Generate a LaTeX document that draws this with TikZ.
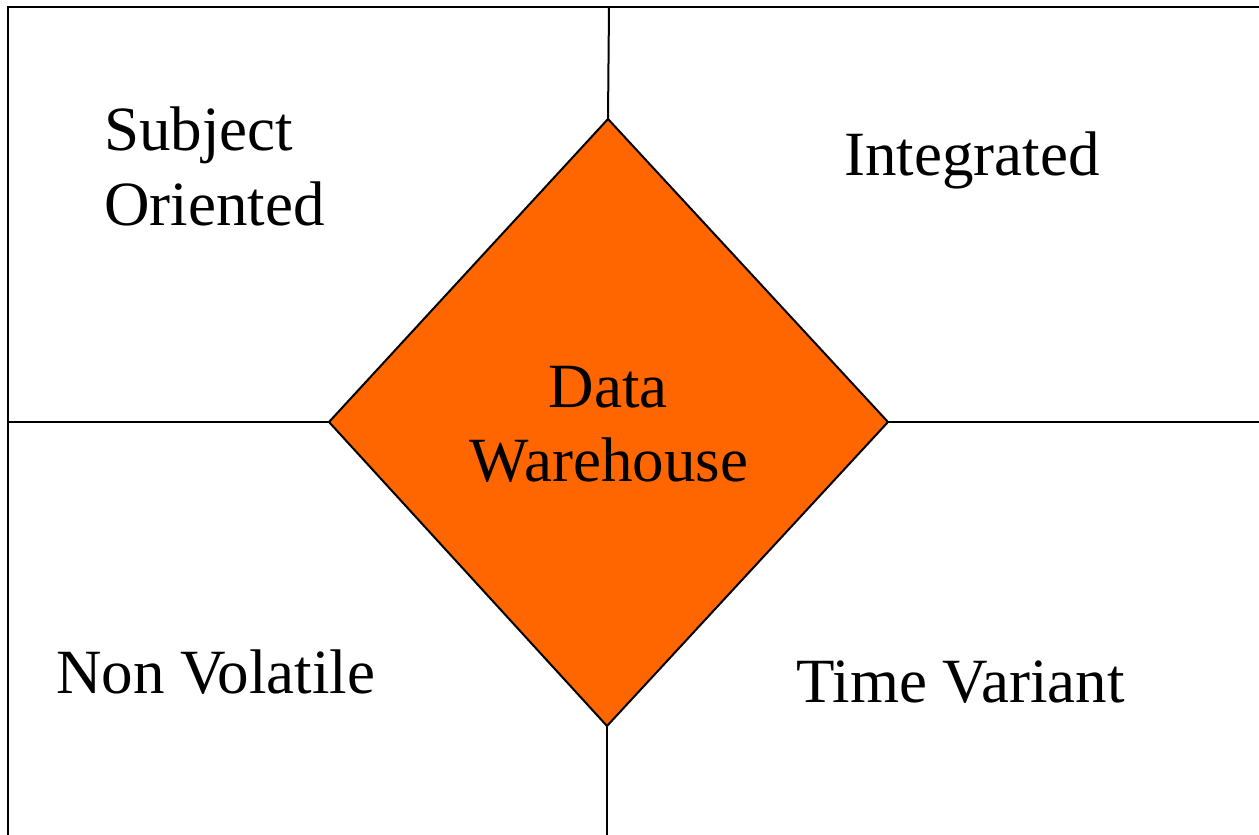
\documentclass[tikz,border=0pt]{standalone}
\usepackage{fontspec}
\setmainfont{Liberation Serif}
\definecolor{dworange}{HTML}{FF6600}
\begin{document}
\begin{tikzpicture}[x=1pt,y=-1pt,
  rule/.style={line width=2pt,black},
  label/.style={inner sep=0pt,font=\fontsize{63}{75}\selectfont},
  lbl/.style={label,anchor=base west},
  clbl/.style={label,anchor=base}]
  \useasboundingbox (0,0) rectangle (1259,835);
  % frame edges
  \coordinate (tl) at (8,7);
  \coordinate (tr) at (1259,7);
  \coordinate (bl) at (8,835);
  \coordinate (tm) at (609,7);
  \coordinate (bm) at (607,835);
  \coordinate (ml) at (8,422);
  \coordinate (mr) at (1259,422);
  % diamond vertices
  \coordinate (dt) at (608,119);
  \coordinate (dr) at (888,422);
  \coordinate (db) at (607,726);
  \coordinate (dl) at (329,422);
  \draw[rule] (tr) -- (tl) -- (bl);
  \draw[rule] (tm) -- (dt);
  \draw[rule] (db) -- (bm);
  \draw[rule] (ml) -- (dl);
  \draw[rule] (dr) -- (mr);
  \filldraw[rule,fill=dworange] (dt) -- (dr) -- (db) -- (dl) -- cycle;
  % labels
  \node[clbl] (data) at (608,407) {Data};
  \node[clbl] (wh) at (609,481) {Warehouse};
  \node[lbl] (subj) at (104,150) {Subject};
  \node[lbl] (orient) at (104,225) {Oriented};
  \node[lbl] (integ) at (844,175) {Integrated};
  \node[lbl] (nonvol) at (56,693) {Non Volatile};
  \node[lbl] (timev) at (796,702) {Time Variant};
\end{tikzpicture}
\end{document}
